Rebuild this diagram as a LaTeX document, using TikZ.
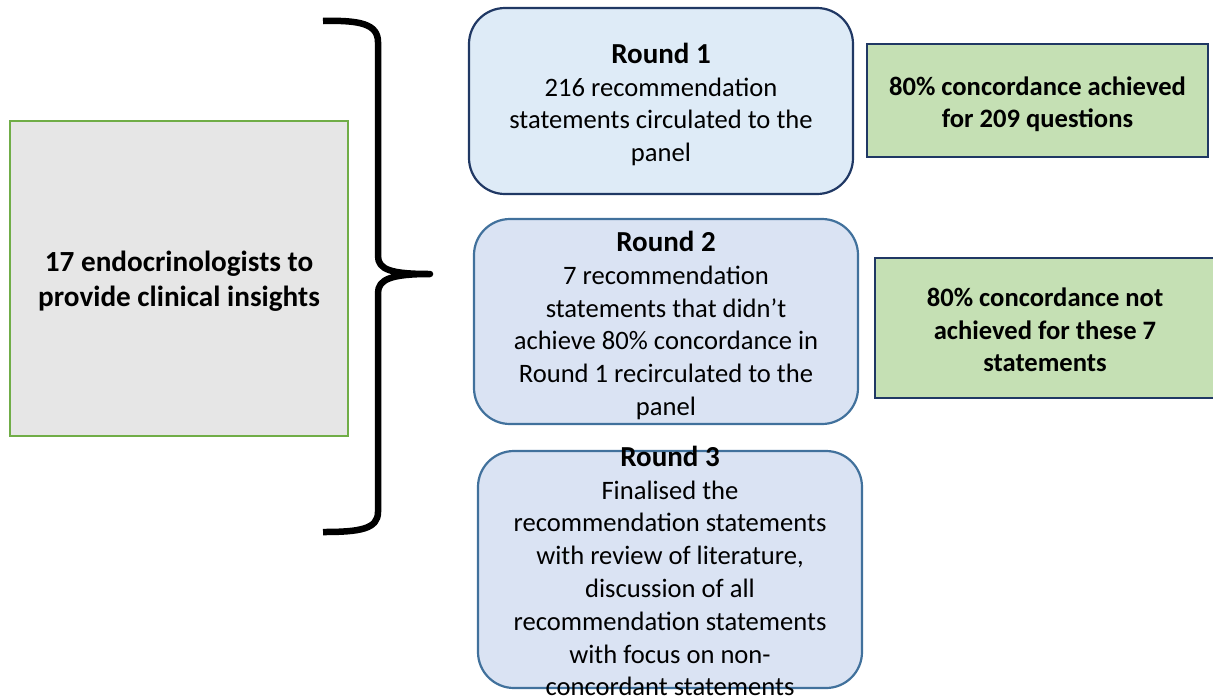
\documentclass[tikz,border=0pt]{standalone}
\usepackage{fontspec}
\setmainfont{Carlito}
\newcommand{\hd}[1]{{\fontsize{29}{34}\selectfont\bfseries #1}}
\begin{document}
\begin{tikzpicture}[x=1pt,y=-1pt,
  roundA/.style={draw=darkblue,line width=2.2pt,fill=lightblueA,rounded corners=36pt,minimum width=384pt,inner sep=0pt},
  roundB/.style={draw=midblue,line width=2.2pt,fill=lightblueB,rounded corners=36pt,minimum width=384pt,inner sep=0pt},
  greenbox/.style={draw=darkblue,line width=2.2pt,fill=lightgreen,inner sep=0pt},
  txt/.style={align=center,font=\fontsize{26.6}{32.8}\selectfont,inner sep=0pt},
  btxt/.style={align=center,font=\fontsize{26.6}{32.3}\selectfont\bfseries,inner sep=0pt},
  bigtxt/.style={align=center,font=\fontsize{29.2}{35}\selectfont\bfseries,inner sep=0pt},
  brace/.style={line width=6.5pt,line cap=butt,line join=round}
]
\definecolor{darkblue}{HTML}{203864}
\definecolor{midblue}{HTML}{41719C}
\definecolor{lightblueA}{HTML}{DEEBF7}
\definecolor{lightblueB}{HTML}{DAE3F3}
\definecolor{lightgreen}{HTML}{C5E0B4}
\definecolor{greyfill}{HTML}{E6E6E6}
\definecolor{greenborder}{HTML}{70AD47}
\useasboundingbox (0,0) rectangle (1213,697);

% left box
\node[draw=greenborder,line width=2.6pt,fill=greyfill,minimum width=338pt,minimum height=315pt,inner sep=0pt] (panel) at (179,278.5) {};
\node[bigtxt] (panelt) at (179,281) {17 endocrinologists to\\provide clinical insights};

% brace
\coordinate (btop) at (323,21);
\coordinate (btip) at (430,274);
\coordinate (bbot) at (323,532);
\draw[brace] (btop) .. controls (360,20) and (378,24) .. (378,42) -- (378,256)
  .. controls (378,270) and (392,274) .. (btip)
  .. controls (392,274) and (378,279) .. (378,293) -- (378,512)
  .. controls (378,529) and (360,532) .. (bbot);

% round boxes
\node[roundA,minimum height=186pt] (r1) at (661,101) {};
\node[txt] (r1t) at (661,104.5) {\hd{Round 1}\\216 recommendation\\statements circulated to the\\panel};

\node[roundB,minimum height=205pt] (r2) at (666,321.5) {};
\node[txt] (r2t) at (666,325.5) {\hd{Round 2}\\7 recommendation\\statements that didn’t\\achieve 80\% concordance in\\Round 1 recirculated to the\\panel};

\node[roundB,minimum height=237pt] (r3) at (670,569.5) {};
\node[txt] (r3t) at (670,571) {\hd{Round 3}\\Finalised the\\recommendation statements\\with review of literature,\\discussion of all\\recommendation statements\\with focus on non-\\concordant statements};

% green boxes
\node[greenbox,minimum width=341pt,minimum height=113pt] (g1) at (1037.5,100.5) {};
\node[btxt] (g1t) at (1037.5,104) {80\% concordance achieved\\for 209 questions};

\node[greenbox,minimum width=342pt,minimum height=140pt] (g2) at (1046,328) {};
\node[btxt] (g2t) at (1045,330) {80\% concordance not\\achieved for these 7\\statements};
\end{tikzpicture}
\end{document}
